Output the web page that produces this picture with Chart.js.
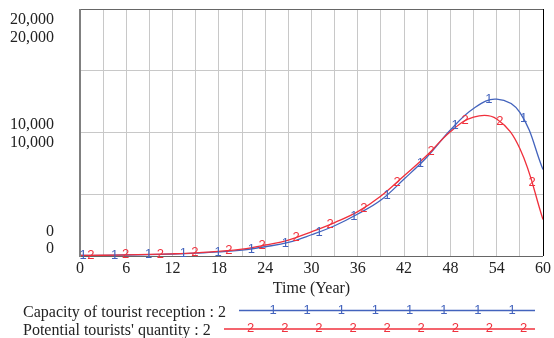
<!DOCTYPE html>
<html>
<head>
<meta charset="utf-8">
<script src="https://cdn.jsdelivr.net/npm/chart.js@4.4.0/dist/chart.umd.min.js"></script>
<style>
  html, body { margin: 0; padding: 0; background: #fff; }
</style>
</head>
<body>
<canvas id="chart" width="554" height="338"></canvas>
<script>
// simulation output, one sample every 3 years
var years = [0, 3, 6, 9, 12, 15, 18, 21, 24, 27, 30, 33, 36, 39, 42, 45, 48, 51, 54, 57, 60];
var capacity = [40, 55, 80, 110, 160, 230, 330, 480, 750, 1100, 1720, 2450, 3400, 4530, 6230, 8040, 10200, 11950, 12700, 11630, 7000];
var potential = [45, 60, 90, 125, 180, 260, 380, 560, 890, 1290, 1960, 2710, 3590, 4860, 6500, 8180, 10070, 11250, 11100, 8700, 2960];

var xTicks = [0, 6, 12, 18, 24, 30, 36, 42, 48, 54, 60];
var yLabels = [0, 10000, 20000];

// years where the run numbers are stamped on each curve
var capacityMarks = [0.4, 4.5, 8.9, 13.4, 17.9, 22.2, 26.6, 31.0, 35.5, 39.8, 44.1, 48.6, 53.0, 57.5];
var potentialMarks = [1.4, 5.9, 10.4, 14.9, 19.3, 23.6, 28.0, 32.4, 36.8, 41.1, 45.5, 49.9, 54.4, 58.6];

var seriesNames = ['Capacity of tourist reception : 2', "Potential tourists' quantity : 2"];
var seriesTags = ['1', '2'];

var BLUE = '#4363bd';
var RED = '#f0303c';
var TEXT = '#222';
var SERIF = "'Times New Roman', 'Liberation Serif', serif";
var SANS = "Arial, 'Liberation Sans', sans-serif";

function toPoints(xs, ys) {
    return xs.map(function(x, i) { return { x: x, y: ys[i] }; });
}

// y on the drawn bezier curve at pixel x
function curveY(pts, px) {
    for (var i = 0; i < pts.length - 1; i++) {
        var a = pts[i], b = pts[i + 1];
        if (px < a.x || px > b.x) continue;
        var lo = 0, hi = 1, t = 0.5;
        for (var k = 0; k < 40; k++) {
            t = (lo + hi) / 2;
            var u = 1 - t;
            var bx = u*u*u*a.x + 3*u*u*t*a.cp2x + 3*u*t*t*b.cp1x + t*t*t*b.x;
            if (bx < px) lo = t; else hi = t;
        }
        var v = 1 - t;
        return v*v*v*a.y + 3*v*v*t*a.cp2y + 3*v*t*t*b.cp1y + t*t*t*b.y;
    }
    return null;
}

var decorations = {
    id: 'decorations',
    afterDatasetsDraw: function(chart) {
        var ctx = chart.ctx;
        var area = chart.chartArea;
        var xs = chart.scales.x, ys = chart.scales.y;

        // frame
        ctx.save();
        ctx.lineWidth = 1;
        ctx.strokeStyle = '#666';
        ctx.beginPath();
        ctx.moveTo(area.left, area.top + 0.5);
        ctx.lineTo(area.right, area.top + 0.5);
        ctx.moveTo(area.left, area.bottom + 0.5);
        ctx.lineTo(area.right, area.bottom + 0.5);
        ctx.stroke();
        ctx.strokeStyle = '#000';
        ctx.beginPath();
        ctx.moveTo(area.right + 0.5, area.top);
        ctx.lineTo(area.right + 0.5, area.bottom);
        ctx.stroke();
        ctx.lineWidth = 2;
        ctx.strokeStyle = '#808080';
        ctx.beginPath();
        ctx.moveTo(area.left, area.top);
        ctx.lineTo(area.left, area.bottom + 1);
        ctx.stroke();

        // number stamps along the curves
        ctx.font = '13px ' + SANS;
        ctx.textAlign = 'center';
        ctx.textBaseline = 'middle';
        [capacityMarks, potentialMarks].forEach(function(marks, d) {
            var pts = chart.getDatasetMeta(d).data;
            ctx.fillStyle = d === 0 ? BLUE : RED;
            marks.forEach(function(yr) {
                var px = xs.getPixelForValue(yr);
                var py = curveY(pts, px);
                if (py !== null) ctx.fillText(seriesTags[d], px, py);
            });
        });

        // y labels, printed twice (one per series axis), kept inside the plot
        ctx.font = '16px ' + SERIF;
        ctx.fillStyle = TEXT;
        ctx.textAlign = 'right';
        yLabels.forEach(function(v) {
            var c = ys.getPixelForValue(v);
            c = Math.min(Math.max(c, area.top + 18.5), area.bottom - 17);
            var txt = v.toLocaleString('en-US');
            ctx.fillText(txt, 54, c - 7.5);
            ctx.fillText(txt, 54, c + 10);
        });

        // x axis title
        ctx.textAlign = 'center';
        ctx.fillText('Time (Year)', (area.left + area.right) / 2, 289);

        // legend
        ctx.textAlign = 'left';
        ctx.fillText(seriesNames[0], 23, 313);
        ctx.fillText(seriesNames[1], 23, 331);

        ctx.lineWidth = 1.3;
        ctx.strokeStyle = BLUE;
        ctx.beginPath();
        ctx.moveTo(239, 310.5);
        ctx.lineTo(535, 310.5);
        ctx.stroke();
        ctx.strokeStyle = RED;
        ctx.beginPath();
        ctx.moveTo(224, 329);
        ctx.lineTo(535, 329);
        ctx.stroke();

        ctx.font = '13px ' + SANS;
        ctx.textAlign = 'center';
        ctx.fillStyle = BLUE;
        for (var i = 0; i < 8; i++) ctx.fillText(seriesTags[0], 273 + i * 34.15, 310);
        ctx.fillStyle = RED;
        for (var j = 0; j < 9; j++) ctx.fillText(seriesTags[1], 250.7 + j * 34.1, 328);
        ctx.restore();
    }
};

new Chart(document.getElementById('chart'), {
    type: 'line',
    data: {
        datasets: [{
            label: seriesNames[0],
            data: toPoints(years, capacity),
            borderColor: BLUE,
            borderWidth: 1.3,
            pointRadius: 0,
            tension: 0.4,
            fill: false,
            order: 1
        }, {
            label: seriesNames[1],
            data: toPoints(years, potential),
            borderColor: RED,
            borderWidth: 1.3,
            pointRadius: 0,
            tension: 0.4,
            fill: false,
            order: 0
        }]
    },
    options: {
        responsive: false,
        animation: false,
        devicePixelRatio: 1,
        layout: { padding: { top: 9, right: 8, left: 0, bottom: 0 } },
        plugins: {
            legend: { display: false },
            tooltip: { enabled: false }
        },
        scales: {
            x: {
                type: 'linear',
                min: 0,
                max: 60,
                border: { display: false },
                grid: { color: '#c8c8c8', drawTicks: false },
                ticks: {
                    stepSize: 3,
                    autoSkip: false,
                    maxRotation: 0,
                    padding: 3,
                    color: TEXT,
                    font: { family: SERIF, size: 16 },
                    callback: function(v) { return xTicks.indexOf(v) >= 0 ? String(v) : ''; }
                },
                afterFit: function(scale) { scale.height = 82; }
            },
            y: {
                min: 0,
                max: 20000,
                border: { display: false },
                grid: { color: '#c8c8c8', drawTicks: false },
                ticks: { stepSize: 5000, display: false },
                afterFit: function(scale) { scale.width = 80; }
            }
        }
    },
    plugins: [decorations]
});
</script>
</body>
</html>
